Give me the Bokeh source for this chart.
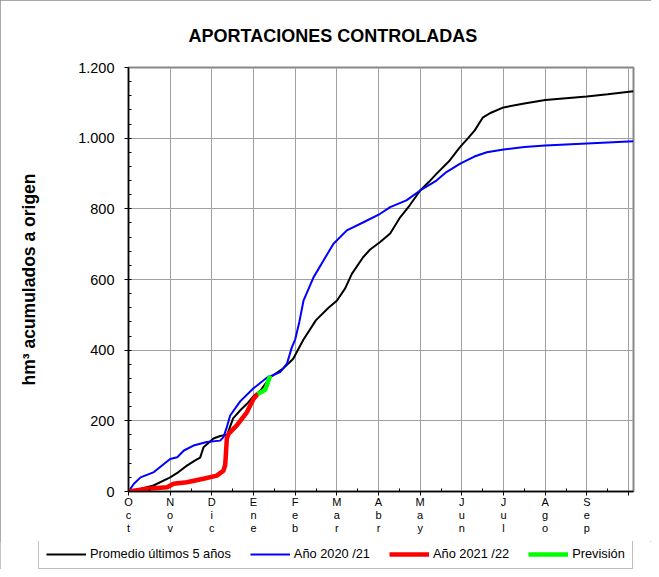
from bokeh.plotting import figure
from bokeh.models import Range1d, FixedTicker, Legend, LegendItem, Title
from bokeh.layouts import column, row
from bokeh.embed import file_html
from bokeh.resources import INLINE

# ---- data (x = months since 1 Oct, y = hm3 accumulated) ----
meses = ["Oct", "Nov", "Dic", "Ene", "Feb", "Mar", "Abr", "May", "Jun", "Jul", "Ago", "Sep"]
y_ticks = [0, 200, 400, 600, 800, 1000, 1200]
y_tick_labels = ["0", "200", "400", "600", "800", "1.000", "1.200"]

prom_x = [0, 0.3, 0.6, 1.0, 1.2, 1.41, 1.6, 1.72, 1.8, 2.04, 2.2, 2.37, 2.51, 2.7, 2.85,
          3.0, 3.16, 3.4, 3.71, 3.95, 4.2, 4.5, 4.8, 5.0, 5.2, 5.36, 5.63, 5.8, 6.04, 6.28,
          6.52, 6.75, 7.0, 7.2, 7.39, 7.71, 7.95, 8.15, 8.31, 8.5, 8.7, 9.0, 9.5, 10.0,
          10.5, 11.0, 11.5, 12.12]
prom_y = [0, 8, 17, 40, 55, 74, 88, 96, 125, 150, 157, 161, 207, 232, 249,
          270, 285, 323, 348, 375, 430, 485, 520, 540, 575, 616, 663, 685, 706, 730,
          776, 810, 852, 875, 899, 937, 974, 1000, 1022, 1058, 1072, 1087, 1098, 1108,
          1113, 1118, 1124, 1133]

a2021_x = [0, 0.13, 0.29, 0.61, 0.85, 1.0, 1.17, 1.33, 1.56, 1.88, 2.2, 2.28, 2.36, 2.44,
           2.68, 3.0, 3.32, 3.64, 3.8, 3.92, 4.0, 4.1, 4.2, 4.44, 4.68, 4.92, 5.24, 5.64,
           6.04, 6.28, 6.67, 7.0, 7.39, 7.63, 7.95, 8.3, 8.6, 9.0, 9.5, 10.0, 11.0, 12.12]
a2021_y = [0, 22, 40, 55, 78, 92, 97, 116, 130, 140, 144, 154, 182, 215,
           255, 292, 322, 338, 361, 408, 430, 480, 540, 606, 654, 701, 739, 762,
           786, 805, 824, 852, 880, 904, 927, 948, 960, 968, 975, 979, 985, 991]

a2122_x = [0, 0.45, 0.93, 1.08, 1.4, 1.8, 2.12, 2.28, 2.32, 2.34, 2.36, 2.40, 2.6, 2.84, 3.0, 3.1]
a2122_y = [0, 8, 12, 22, 26, 36, 45, 59, 75, 110, 150, 163, 187, 224, 262, 276]

prev_x = [3.1, 3.2, 3.28, 3.32, 3.36, 3.4]
prev_y = [276, 282, 288, 300, 314, 328]

series_names = ["Promedio últimos 5 años", "Año 2020 /21", "Año 2021 /22", "Previsión"]
series_colors = ["black", "#0000ff", "#ff0000", "#00ff00"]
series_widths = [2, 2, 4.5, 4.5]

FONT = "Liberation Sans"

p = figure(width=651, height=541, output_backend="svg", toolbar_location=None,
           x_range=Range1d(0, 12.12), y_range=Range1d(0, 1200),
           min_border_left=128, min_border_right=18, min_border_top=67,
           min_border_bottom=50, background_fill_color="white",
           border_fill_color="white")

p.title = Title(text="APORTACIONES CONTROLADAS", align="left", offset=60,
                text_font=FONT, text_font_size="18px", text_font_style="bold",
                text_color="black", standoff=44)

p.outline_line_color = "#888888"
p.outline_line_width = 2

# x axis
p.xaxis.ticker = FixedTicker(ticks=list(range(13)),
                             minor_ticks=[i + 0.5 for i in range(12)])
overrides = {i: "\n".join(m) for i, m in enumerate(meses)}
overrides[12] = ""
p.xaxis.major_label_overrides = overrides
p.xaxis.major_label_text_font = FONT
p.xaxis.major_label_text_font_size = "11px"
p.xaxis.major_label_text_color = "black"
p.xaxis.major_label_text_line_height = 1.1
p.xaxis.major_label_standoff = 0
p.xaxis.major_tick_in = 0
p.xaxis.major_tick_out = 4
p.xaxis.minor_tick_in = 3
p.xaxis.minor_tick_out = 0
p.xaxis.axis_line_color = "black"
p.xaxis.axis_line_width = 1.5
p.xaxis.major_tick_line_color = "black"
p.xaxis.minor_tick_line_color = "black"

# y axis
p.yaxis.ticker = FixedTicker(ticks=y_ticks, minor_ticks=list(range(40, 1200, 40)))
p.yaxis.major_label_overrides = dict(zip(y_ticks, y_tick_labels))
p.yaxis.major_label_text_font = FONT
p.yaxis.major_label_text_font_size = "14.5px"
p.yaxis.major_label_text_color = "black"
p.yaxis.major_label_standoff = 10
p.yaxis.major_tick_in = 0
p.yaxis.major_tick_out = 4
p.yaxis.minor_tick_in = 3
p.yaxis.minor_tick_out = 0
p.yaxis.axis_line_color = "black"
p.yaxis.axis_line_width = 1.5
p.yaxis.major_tick_line_color = "black"
p.yaxis.minor_tick_line_color = "black"
p.yaxis.axis_label = "hm³ acumulados a origen"
p.yaxis.axis_label_text_font = FONT
p.yaxis.axis_label_text_font_size = "17.5px"
p.yaxis.axis_label_text_font_style = "bold"
p.yaxis.axis_label_text_color = "black"
p.yaxis.axis_label_standoff = 36

p.xgrid.grid_line_color = "#a0a0a0"
p.ygrid.grid_line_color = "#a0a0a0"

xs = [prom_x, a2021_x, a2122_x, prev_x]
ys = [prom_y, a2021_y, a2122_y, prev_y]
for x, y, c, w in zip(xs, ys, series_colors, series_widths):
    p.line(x, y, line_color=c, line_width=w)

# legend strip (separate canvas so the legend box can sit left of the plot frame);
# its ranges keep the series themselves out of view, only the legend is shown
pl = figure(width=651, height=28, output_backend="svg", toolbar_location=None,
            x_range=Range1d(-3, -2), y_range=Range1d(-3, -2), min_border=0,
            min_border_left=0, min_border_right=0, min_border_top=0,
            min_border_bottom=0,
            x_axis_type=None, y_axis_type=None, outline_line_color=None,
            background_fill_color="white", border_fill_color="white")
pl.grid.visible = False
items = []
for name, x, y, c, w in zip(series_names, xs, ys, series_colors, series_widths):
    r = pl.line(x, y, line_color=c, line_width=w)
    items.append(LegendItem(label=name, renderers=[r]))

legend = Legend(items=items, orientation="horizontal", location=(38, 0), margin=0,
                padding=7, spacing=19, glyph_width=40, glyph_height=14,
                label_height=14, label_standoff=4,
                label_text_font=FONT, label_text_font_size="12.8px",
                label_text_color="black",
                border_line_color="#808080", border_line_width=1,
                background_fill_color="white")
pl.add_layout(legend, "center")

layout = column(p, row(pl), spacing=0,
                styles={"outline": "1px solid #8c8c8c", "outline-offset": "-1px"})

open("out.html", "w").write(file_html(layout, INLINE))
